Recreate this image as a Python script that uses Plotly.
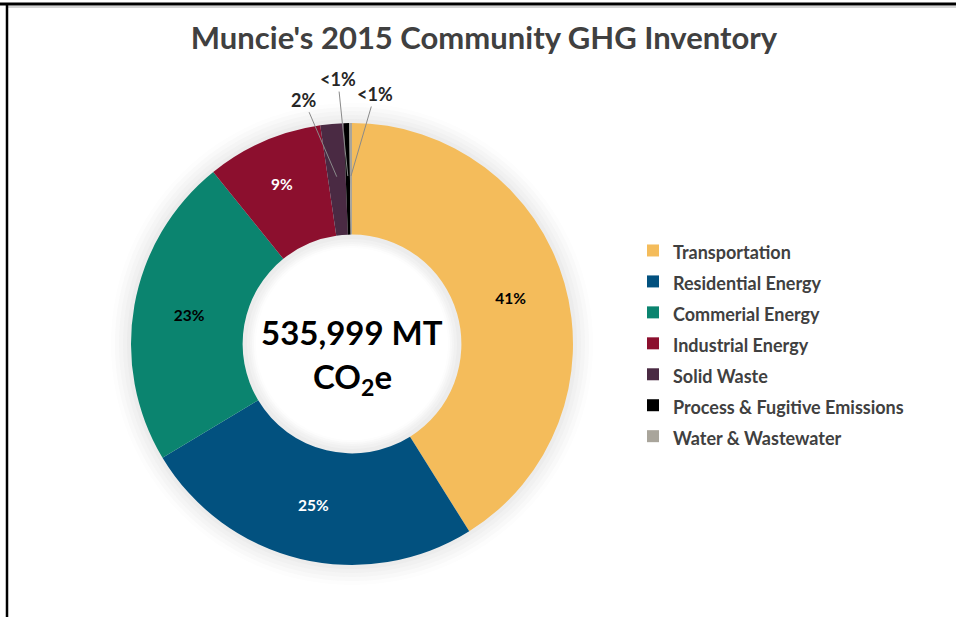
import math
import plotly.graph_objects as go

categories = ["Transportation", "Residential Energy", "Commerial Energy", "Industrial Energy",
              "Solid Waste", "Process & Fugitive Emissions", "Water & Wastewater"]
values = [220300, 135600, 122200, 45600, 9100, 2150, 1050]
slice_labels = ["41%", "25%", "23%", "9%", "2%", "<1%", "<1%"]
colors = ["#F4BC5B", "#02517F", "#0B846F", "#8C0F2E", "#4A2A43", "#000000", "#A9A59B"]
text_colors = ["#000000", "#FFFFFF", "#000000", "#FFFFFF", "#000000", "#000000", "#000000"]
center_lines = ["535,999 MT", "CO<sub>2</sub>e"]
title_text = "Muncie's 2015 Community GHG Inventory"

W, H = 956, 617
cx, cy, R = 352, 344, 221   # pie centre / radius in pixels


def px(x):
    return x / W


def py(y):
    return (H - y) / H


def dom(r):
    return dict(x=[px(cx - r), px(cx + r)], y=[py(cy + r), py(cy - r)])


n_inside = 4
fig = go.Figure()
# soft shadow rings behind the donut (outer glow and inner hole glow)
shadow = [(241, 96, "#fdfdfd"), (237, 98, "#f9f9f9"), (233, 100, "#f5f5f5"),
          (229, 102, "#f1f1f1"), (225, 105, "#ececec")]
for r, inner, col in shadow:
    fig.add_trace(go.Pie(values=[1], labels=["shadow"], domain=dom(r), hole=inner / r,
                         marker=dict(colors=[col], line=dict(width=0)),
                         textinfo="none", hoverinfo="skip", showlegend=False, sort=False))

fig.add_trace(go.Pie(
    labels=[f'<span style="font-size:18px">{c}</span>' for c in categories],
    values=values,
    text=[t if i < n_inside else "" for i, t in enumerate(slice_labels)],
    textinfo="text",
    textposition=["inside"] * n_inside + ["none"] * (len(values) - n_inside),
    insidetextorientation="horizontal",
    textfont=dict(family="Lato", size=15.5, color=text_colors, weight="bold"),
    marker=dict(colors=colors, line=dict(width=0)),
    hole=0.495,
    sort=False,
    direction="clockwise",
    rotation=0,
    domain=dom(R),
    hoverinfo="label+percent",
))

annotations = []
# centre text
for txt, yy in zip(center_lines, [332, 378]):
    annotations.append(dict(text=f"<b>{txt}</b>", x=px(cx), y=py(yy), xref="paper", yref="paper",
                            showarrow=False, xanchor="center", yanchor="middle",
                            font=dict(family="Lato", size=33, color="#000000")))

# labels with leader lines for the small slices, pointing at each slice's mid angle
total = sum(values)
offsets = [(-33, -77), (-10, -97), (24, -82)]
cum = sum(values[:n_inside])
for i in range(n_inside, len(values)):
    mid = (cum + values[i] / 2) / total * 2 * math.pi
    cum += values[i]
    rr = 168
    tx, ty = cx + rr * math.sin(mid), cy - rr * math.cos(mid)
    ax, ay = offsets[i - n_inside]
    annotations.append(dict(text=f"<b>{slice_labels[i]}</b>", x=px(tx), y=py(ty),
                            xref="paper", yref="paper", showarrow=True, arrowhead=0,
                            arrowwidth=1, arrowcolor="#8a8a8a", ax=ax, ay=ay,
                            font=dict(family="Lato", size=18, color="#262626")))

fig.update_layout(
    width=W, height=H,
    margin=dict(l=0, r=0, t=0, b=0),
    paper_bgcolor="white",
    plot_bgcolor="white",
    title=dict(text=f"<b>{title_text}</b>", x=px(484), xanchor="center", y=py(38),
               yanchor="middle", font=dict(family="Lato", size=31, color="#404040")),
    legend=dict(x=px(633), xanchor="left", y=py(230), yanchor="top",
                font=dict(family="Lato", size=21.5, color="#404040", weight="bold"),
                bgcolor="rgba(0,0,0,0)"),
    annotations=annotations,
    shapes=[
        dict(type="line", xref="paper", yref="paper", x0=0, x1=1, y0=py(4), y1=py(4),
             line=dict(color="black", width=3)),
        dict(type="line", xref="paper", yref="paper", x0=px(8), x1=1, y0=py(7), y1=py(7),
             line=dict(color="#d4d4d4", width=2)),
        dict(type="line", xref="paper", yref="paper", x0=px(7), x1=px(7), y0=0, y1=py(3),
             line=dict(color="black", width=2.5)),
    ],
)

fig.write_html("out.html", config={"displayModeBar": False},
               post_script="document.body.style.margin='0';document.body.style.overflow='hidden';")
